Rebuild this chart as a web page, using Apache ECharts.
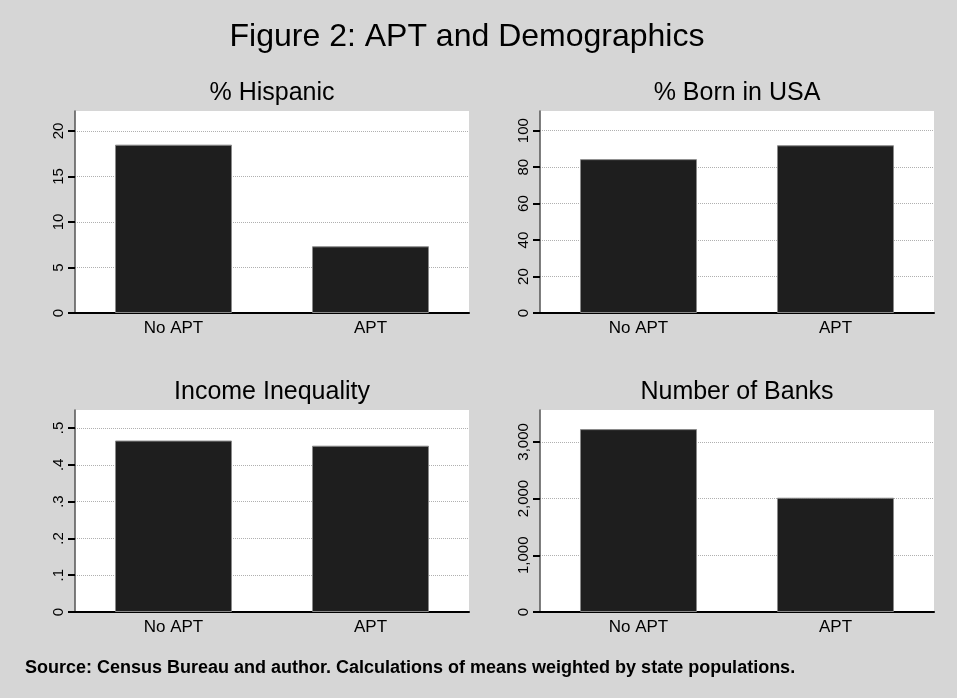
<!DOCTYPE html>
<html>
<head>
<meta charset="utf-8">
<script src="https://cdn.jsdelivr.net/npm/echarts@6/dist/echarts.min.js"></script>
<style>
html,body{margin:0;padding:0;background:#d6d6d6;}
#chart{width:957px;height:698px;}
</style>
</head>
<body>
<div id="chart"></div>
<script>
const categories = ["No APT", "APT"];
const hispanic = [18.5, 7.33];
const bornUSA = [84.4, 92.0];
const inequality = [0.466, 0.452];
const banks = [3225, 2015];

const hispanicTicks = [0, 5, 10, 15, 20];
const bornTicks = [0, 20, 40, 60, 80, 100];
const inequalityTicks = [0, 0.1, 0.2, 0.3, 0.4, 0.5];
const banksTicks = [0, 1000, 2000, 3000];

const panelTitles = ["% Hispanic", "% Born in USA", "Income Inequality", "Number of Banks"];
const mainTitle = "Figure 2: APT and Demographics";
const sourceNote = "Source: Census Bureau and author. Calculations of means weighted by state populations.";

const FONT = '"Liberation Sans", Arial, Helvetica, sans-serif';

const grids = [
  {left: 75, top: 111, width: 394, height: 202},
  {left: 540, top: 111, width: 394, height: 202},
  {left: 75, top: 410, width: 394, height: 202},
  {left: 540, top: 410, width: 394, height: 202}
];
const panels = [
  {data: hispanic, ticks: hispanicTicks, max: 22.2, fmt: v => String(v)},
  {data: bornUSA, ticks: bornTicks, max: 110.8, fmt: v => String(v)},
  {data: inequality, ticks: inequalityTicks, max: 0.549, fmt: v => v === 0 ? '0' : String(v).replace(/^0/, '')},
  {data: banks, ticks: banksTicks, max: 3562, fmt: v => v.toLocaleString('en-US')}
];

const xAxes = panels.map((p, i) => ({
  type: 'category', gridIndex: i, data: categories,
  axisLine: {show: true, lineStyle: {color: '#000', width: 2}},
  axisTick: {show: false},
  axisLabel: {fontFamily: FONT, fontSize: 17, color: '#000', margin: 7}
}));
const yAxes = panels.map((p, i) => ({
  type: 'value', gridIndex: i, min: 0, max: p.max,
  axisLine: {show: true, lineStyle: {color: '#555', width: 1.5}},
  axisTick: {show: true, inside: false, length: 7, lineStyle: {color: '#000', width: 2}, customValues: p.ticks},
  axisLabel: {show: true, rotate: 90, fontFamily: FONT, fontSize: 15, color: '#000', margin: 9,
              customValues: p.ticks, formatter: p.fmt},
  splitLine: {show: true, lineStyle: {color: '#b0b0b0', type: 'dotted', width: 1}}
}));
const series = panels.map((p, i) => ({
  type: 'bar', xAxisIndex: i, yAxisIndex: i, data: p.data,
  barWidth: '59.4%',
  itemStyle: {color: '#1e1e1e', borderColor: '#8a8a8a', borderWidth: 1},
  silent: true
}));

const titleCenters = [
  {x: 272, y: 81}, {x: 737, y: 81}, {x: 272, y: 380}, {x: 737, y: 380}
];
const titles = [
  {text: mainTitle, left: 467, top: 21, textAlign: 'center', padding: 0,
   textStyle: {fontFamily: FONT, fontSize: 32, fontWeight: 'normal', color: '#000'}}
].concat(panelTitles.map((t, i) => ({
  text: t, left: titleCenters[i].x, top: titleCenters[i].y, textAlign: 'center', padding: 0,
  textStyle: {fontFamily: FONT, fontSize: 25, fontWeight: 'normal', color: '#000'}
}))).concat([
  {text: sourceNote, left: 25, top: 659, padding: 0,
   textStyle: {fontFamily: FONT, fontSize: 18, fontWeight: 'bold', color: '#000'}}
]);

const chart = echarts.init(document.getElementById('chart'), null, {renderer: 'canvas'});
chart.setOption({
  backgroundColor: '#d6d6d6',
  animation: false,
  title: titles,
  grid: grids.map(g => Object.assign({backgroundColor: '#ffffff', show: true, borderWidth: 0}, g)),
  xAxis: xAxes,
  yAxis: yAxes,
  series: series
});
</script>
</body>
</html>
